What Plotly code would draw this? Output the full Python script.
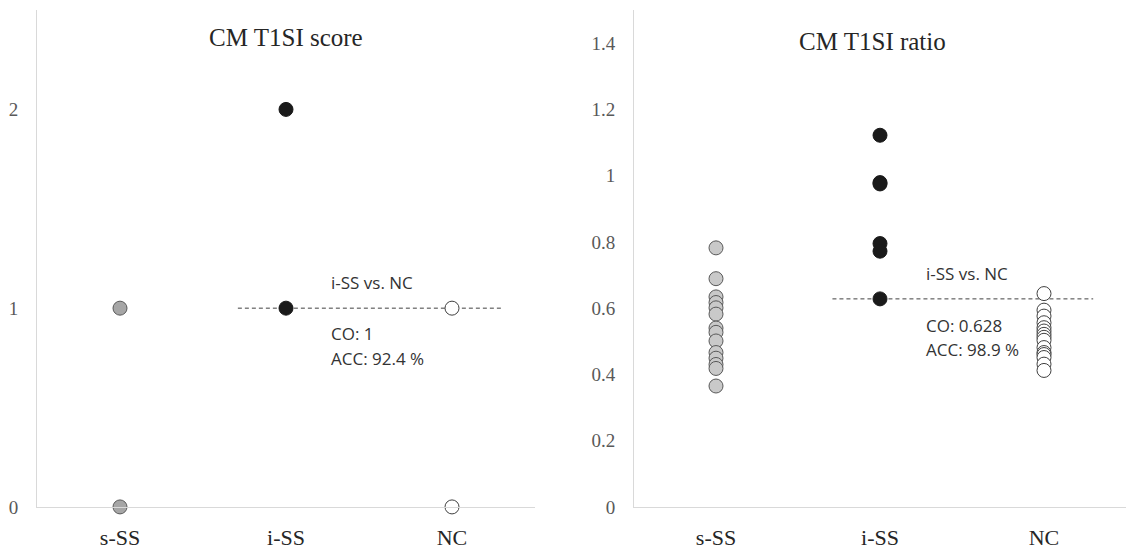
import plotly.graph_objects as go

categories = ["s-SS", "i-SS", "NC"]

# Left panel: CM T1SI score
score_sSS = [1, 0]
score_iSS = [2, 1]
score_NC = [1, 0]
score_cutoff = 1
score_acc = "92.4 %"
score_ticks = [0, 1, 2]

# Right panel: CM T1SI ratio
ratio_sSS = [0.782, 0.689, 0.634, 0.617, 0.601, 0.582, 0.540, 0.527, 0.501,
             0.466, 0.449, 0.430, 0.418, 0.365]
ratio_iSS = [1.122, 0.979, 0.975, 0.795, 0.772, 0.628]
ratio_NC = [0.644, 0.594, 0.576, 0.556, 0.541, 0.531, 0.521, 0.512, 0.503,
            0.481, 0.466, 0.460, 0.451, 0.431, 0.412]
ratio_cutoff = 0.628
ratio_acc = "98.9 %"
ratio_ticks = [0, 0.2, 0.4, 0.6, 0.8, 1, 1.2, 1.4]

fig = go.Figure()

W, H = 1140, 551
SERIF = "Liberation Serif, Times New Roman, serif"
SANS = "Open Sans, Noto Sans, sans-serif"

styles = {
    "s-SS": dict(color="#BDBDBD", line=dict(color="#595959", width=1)),
    "i-SS": dict(color="#1A1A1A", line=dict(color="#1A1A1A", width=1)),
    "NC": dict(color="#FFFFFF", line=dict(color="#404040", width=1)),
}

def add_panel(xa, ya, groups, cutoff, s_fill):
    # dashed cutoff line
    fig.add_trace(go.Scatter(x=[0.71, 2.3], y=[cutoff, cutoff], mode="lines",
                             line=dict(color="#404040", width=1, dash="4px,3px"),
                             xaxis=xa, yaxis=ya, showlegend=False, hoverinfo="skip",
                             cliponaxis=False))
    for i, (cat, vals) in enumerate(zip(categories, groups)):
        st = dict(styles[cat])
        if cat == "s-SS":
            st["color"] = s_fill
        fig.add_trace(go.Scatter(x=[i] * len(vals), y=vals, mode="markers",
                                 marker=dict(size=14, **st), cliponaxis=False,
                                 xaxis=xa, yaxis=ya, showlegend=False))

add_panel("x", "y", [score_sSS, score_iSS, score_NC], score_cutoff, "#A6A6A6")
add_panel("x2", "y2", [ratio_sSS, ratio_iSS, ratio_NC], ratio_cutoff, "#C9C9C9")

xcommon = dict(range=[-0.5, 2.5], tickvals=[0, 1, 2], ticktext=categories,
               showgrid=False, zeroline=False, showline=True, linecolor="#D9D9D9",
               linewidth=1, ticks="", ticklabelstandoff=11,
               tickfont=dict(family=SERIF, size=22, color="#262626"))
ycommon = dict(showgrid=False, zeroline=False, showline=True, linecolor="#D9D9D9",
               linewidth=1, ticks="", ticklabelstandoff=14,
               tickfont=dict(family=SERIF, size=19, color="#595959"))

ydom = [45 / H, 541 / H]
fig.update_layout(
    width=W, height=563,
    margin=dict(l=0, r=0, t=0, b=0),
    paper_bgcolor="white", plot_bgcolor="white",
    xaxis=dict(domain=[37 / W, 535 / W], anchor="y", **xcommon),
    yaxis=dict(domain=ydom, anchor="x", range=[0, 2.5], tickvals=score_ticks,
               ticktext=[str(t) for t in score_ticks], **ycommon),
    xaxis2=dict(domain=[634 / W, 1126 / W], anchor="y2", **xcommon),
    yaxis2=dict(domain=ydom, anchor="x2", range=[0, 1.5], tickvals=ratio_ticks,
                ticktext=[f"{t:g}" for t in ratio_ticks], **ycommon),
)

# Titles
fig.add_annotation(text="CM T1SI score", xref="x domain", yref="paper",
                   x=0.5, y=1 - 37 / H, showarrow=False, yanchor="middle",
                   font=dict(family=SERIF, size=25, color="#262626"))
fig.add_annotation(text="CM T1SI ratio", xref="x2 domain", yref="paper",
                   x=0.485, y=1 - 41 / H, showarrow=False, yanchor="middle",
                   font=dict(family=SERIF, size=25, color="#262626"))

afont = dict(family=SANS, size=17, color="#333333")
# Left annotations
for txt, yv in [("i-SS vs. NC", 1.13), ("CO: " + f"{score_cutoff:g}", 0.874),
                ("ACC: " + score_acc, 0.749)]:
    fig.add_annotation(text=txt, xref="x", yref="y", x=1.26, y=yv,
                       xanchor="left", yanchor="middle", showarrow=False, font=afont)
# Right annotations
for txt, yv in [("i-SS vs. NC", 0.706), ("CO: " + f"{ratio_cutoff:g}", 0.549),
                ("ACC: " + ratio_acc, 0.474)]:
    fig.add_annotation(text=txt, xref="x2", yref="y2", x=1.27, y=yv,
                       xanchor="left", yanchor="middle", showarrow=False, font=afont)

fig.write_html("out.html", config={"displayModeBar": False},
               post_script="document.body.style.margin='0';document.body.style.overflow='hidden';")
